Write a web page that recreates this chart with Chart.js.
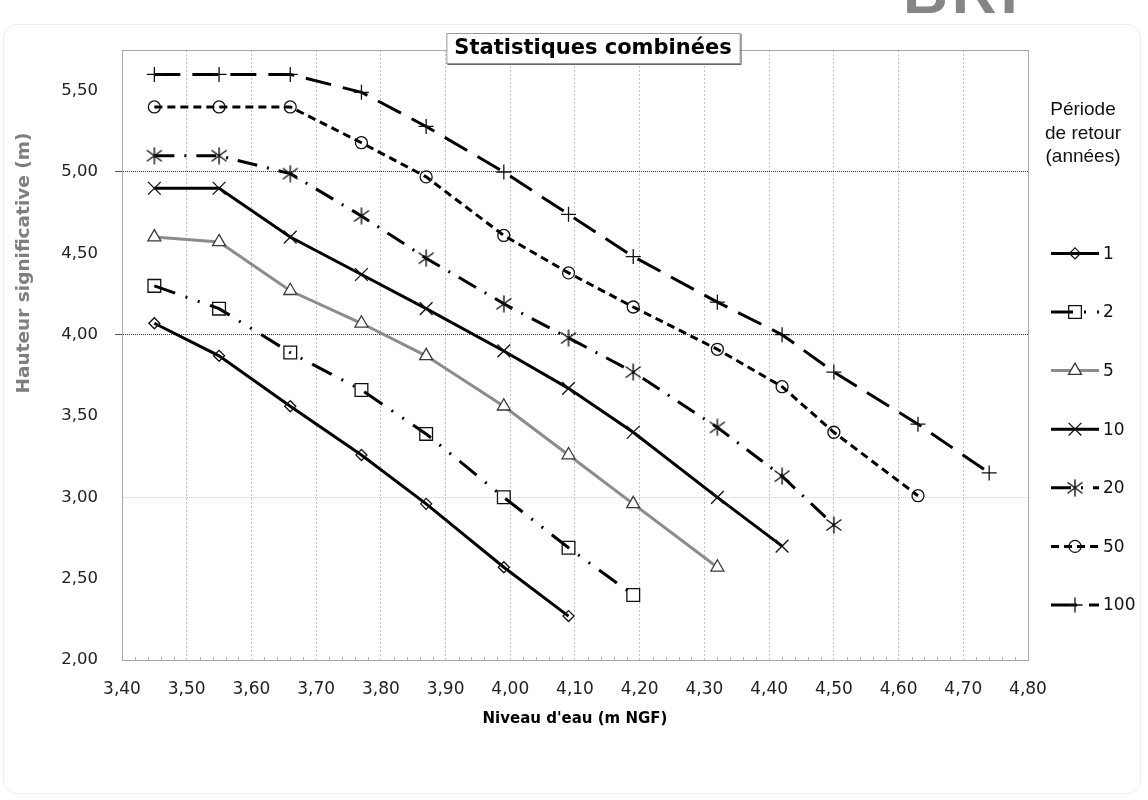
<!DOCTYPE html>
<html lang="fr">
<head>
<meta charset="utf-8">
<title>Statistiques combinées</title>
<script src="https://cdn.jsdelivr.net/npm/chart.js@4.4.1/dist/chart.umd.min.js"></script>
<style>
  html, body { margin: 0; padding: 0; background: #fff; }
  #wrap { position: relative; width: 1148px; height: 800px; overflow: hidden; }
  #frame { position: absolute; left: 3px; top: 24px; width: 1136px; height: 768px;
           border: 1px solid #efefef; border-radius: 14px; }
  #logo { position: absolute; left: 903px; top: -44px; color: #858585;
          font: bold 62px "Liberation Sans", Arial, sans-serif; letter-spacing: 4px; }
  #chart { position: absolute; left: 0; top: 0; }
</style>
</head>
<body>
<div id="wrap">
  <div id="frame"></div>
  <div id="logo">BRI</div>
  <canvas id="chart" width="1148" height="800"></canvas>
</div>
<script>
// niveau d'eau (m NGF) - abscisses communes
const niveau = [3.45, 3.55, 3.66, 3.77, 3.87, 3.99, 4.09, 4.19, 4.32, 4.42, 4.50, 4.63, 4.74];

// périodes de retour (années)
const periodes = ['1', '2', '5', '10', '20', '50', '100'];

// hauteur significative (m) par période de retour
const h1   = [4.07, 3.87, 3.56, 3.26, 2.96, 2.57, 2.27];
const h2   = [4.30, 4.16, 3.89, 3.66, 3.39, 3.00, 2.69, 2.40];
const h5   = [4.60, 4.57, 4.27, 4.07, 3.87, 3.56, 3.26, 2.96, 2.57];
const h10  = [4.90, 4.90, 4.60, 4.37, 4.16, 3.90, 3.67, 3.40, 3.00, 2.70];
const h20  = [5.10, 5.10, 4.99, 4.73, 4.47, 4.19, 3.98, 3.77, 3.43, 3.13, 2.83];
const h50  = [5.40, 5.40, 5.40, 5.18, 4.97, 4.61, 4.38, 4.17, 3.91, 3.68, 3.40, 3.01];
const h100 = [5.60, 5.60, 5.60, 5.49, 5.28, 5.00, 4.74, 4.48, 4.20, 4.00, 3.77, 3.45, 3.15];

const hauteurs = [h1, h2, h5, h10, h20, h50, h100];

// asterisk marker (Excel style "*")
function asterisk() {
  const c = document.createElement('canvas');
  c.width = 18; c.height = 18;
  const g = c.getContext('2d');
  g.strokeStyle = '#111';
  g.lineWidth = 1.4;
  g.beginPath();
  g.moveTo(9, 0.5); g.lineTo(9, 17.5);
  g.moveTo(1.5, 3.5); g.lineTo(16.5, 14.5);
  g.moveTo(1.5, 14.5); g.lineTo(16.5, 3.5);
  g.stroke();
  return c;
}

const styles = [
  { color: '#000', dash: [], point: 'rectRot', radius: 5.5 },
  { color: '#000', dash: [22, 11, 2, 11, 2, 11], point: 'rect', radius: 9 },
  { color: '#8c8c8c', dash: [], point: 'triangle', radius: 7.5, pointColor: '#3a3a3a', fill: '#fff' },
  { color: '#000', dash: [], point: 'crossRot', radius: 9 },
  { color: '#000', dash: [20, 10, 2, 10], point: asterisk(), radius: 9 },
  { color: '#000', dash: [8, 5], point: 'circle', radius: 6 },
  { color: '#000', dash: [26, 12], point: 'cross', radius: 7.5 }
];

const datasets = hauteurs.map((serie, i) => {
  const s = styles[i];
  return {
    label: periodes[i],
    data: serie.map((v, k) => ({ x: niveau[k], y: v })),
    borderColor: s.color,
    borderWidth: 3,
    borderDash: s.dash,
    tension: 0,
    fill: false,
    pointStyle: s.point,
    pointRadius: s.radius,
    pointBorderColor: s.pointColor || '#111',
    pointBackgroundColor: s.fill || 'rgba(0,0,0,0)',
    pointBorderWidth: 1.3
  };
});

const fmt = v => Number(v).toFixed(2).replace('.', ',');

const decor = {
  id: 'decor',
  beforeDatasetsDraw(chart) {
    const { ctx, chartArea: a, scales } = chart;
    ctx.save();
    // plot frame
    ctx.strokeStyle = '#a8a8a8';
    ctx.lineWidth = 1;
    ctx.strokeRect(a.left + 0.5, a.top + 0.5, a.right - a.left, a.bottom - a.top);
    // minor ticks on the x axis
    ctx.strokeStyle = '#b0b0b0';
    for (let v = 3.42; v < 4.8; v += 0.02) {
      const r = Math.round(v * 100);
      if (r % 10 === 0) continue;
      const x = Math.round(scales.x.getPixelForValue(v)) + 0.5;
      ctx.beginPath();
      ctx.moveTo(x, a.bottom - 3);
      ctx.lineTo(x, a.bottom + 1);
      ctx.stroke();
    }
    ctx.restore();
  },
  afterDraw(chart) {
    const { ctx } = chart;
    ctx.save();

    // title box
    const tx = 593, ty = 48;
    ctx.font = 'bold 21px "DejaVu Sans", Verdana, sans-serif';
    const tw = ctx.measureText('Statistiques combinées').width;
    const bx = tx - tw / 2 - 8, bw = tw + 16, by = 33, bh = 30;
    ctx.fillStyle = '#fff';
    ctx.fillRect(bx, by, bw, bh);
    ctx.strokeStyle = '#9a9a9a';
    ctx.lineWidth = 1;
    ctx.strokeRect(bx + 0.5, by + 0.5, bw, bh);
    ctx.strokeStyle = '#6a6a6a';
    ctx.beginPath();
    ctx.moveTo(bx + 1, by + bh + 1.5);
    ctx.lineTo(bx + bw + 1.5, by + bh + 1.5);
    ctx.lineTo(bx + bw + 1.5, by + 1);
    ctx.stroke();
    ctx.fillStyle = '#000';
    ctx.textAlign = 'center';
    ctx.textBaseline = 'middle';
    ctx.fillText('Statistiques combinées', tx, ty + 1);

    // y axis title
    ctx.save();
    ctx.translate(24, 263);
    ctx.rotate(-Math.PI / 2);
    ctx.font = 'bold 18.5px "DejaVu Sans", Verdana, sans-serif';
    ctx.fillStyle = '#7f7f7f';
    ctx.fillText('Hauteur significative (m)', 0, 0);
    ctx.restore();

    // legend header
    ctx.font = '19px "Liberation Sans", Arial, sans-serif';
    ctx.fillStyle = '#111';
    ['Période', 'de retour', '(années)'].forEach((t, i) => ctx.fillText(t, 1083, 110 + i * 23.5));

    // legend entries
    chart.data.datasets.forEach((ds, i) => {
      const y = 253.4 + i * 58.6;
      ctx.save();
      ctx.strokeStyle = ds.borderColor;
      ctx.lineWidth = ds.borderWidth;
      ctx.setLineDash(ds.borderDash);
      ctx.beginPath();
      ctx.moveTo(1051, y);
      ctx.lineTo(1099, y);
      ctx.stroke();
      ctx.setLineDash([]);
      ctx.strokeStyle = ds.pointBorderColor;
      ctx.fillStyle = ds.pointBackgroundColor;
      ctx.lineWidth = ds.pointBorderWidth;
      Chart.helpers.drawPoint(ctx, {
        pointStyle: ds.pointStyle,
        radius: ds.pointRadius,
        borderWidth: ds.pointBorderWidth,
        rotation: 0
      }, 1075, y);
      ctx.restore();
      ctx.font = '17px "DejaVu Sans", Verdana, sans-serif';
      ctx.fillStyle = '#111';
      ctx.textAlign = 'left';
      ctx.fillText(ds.label, 1103, y + 1);
    });

    ctx.restore();
  }
};

new Chart(document.getElementById('chart'), {
  type: 'line',
  data: { datasets },
  options: {
    responsive: false,
    animation: false,
    events: [],
    layout: { padding: { left: 0, top: 50, right: 120, bottom: 72 } },
    plugins: {
      legend: { display: false },
      title: { display: false },
      tooltip: { enabled: false }
    },
    scales: {
      x: {
        type: 'linear',
        min: 3.4,
        max: 4.8,
        afterFit: s => { s.height = 68; },
        ticks: {
          stepSize: 0.1,
          autoSkip: false,
          maxRotation: 0,
          padding: 19,
          color: '#222',
          font: { family: '"DejaVu Sans", Verdana, sans-serif', size: 17 },
          callback: v => fmt(v)
        },
        grid: {
          drawTicks: false,
          color: '#c4c4c4',
          lineWidth: 1
        },
        border: { color: '#a8a8a8', dash: [2, 2] },
        title: {
          display: true,
          text: "Niveau d'eau (m NGF)",
          color: '#000',
          padding: { top: 0, bottom: 0 },
          font: { family: '"DejaVu Sans", Verdana, sans-serif', size: 15, weight: 'bold' }
        }
      },
      y: {
        min: 2,
        max: 5.75,
        afterFit: s => { s.width = 122; },
        ticks: {
          stepSize: 0.5,
          includeBounds: false,
          padding: 17,
          color: '#222',
          font: { family: '"DejaVu Sans", Verdana, sans-serif', size: 16.5 },
          callback: v => fmt(v)
        },
        grid: {
          tickLength: 7,
          lineWidth: 1,
          color: c => {
            const v = c.tick && c.tick.value;
            if (v === 4 || v === 5) return '#3a3a3a';
            if (v === 3) return '#d2d2d2';
            return 'rgba(0,0,0,0)';
          },
          tickColor: c => {
            const v = c.tick && c.tick.value;
            return (v === 4 || v === 5) ? '#555' : 'rgba(0,0,0,0)';
          }
        },
        border: { color: '#a8a8a8', dash: [1, 1] }
      }
    }
  },
  plugins: [decor]
});
</script>
</body>
</html>
